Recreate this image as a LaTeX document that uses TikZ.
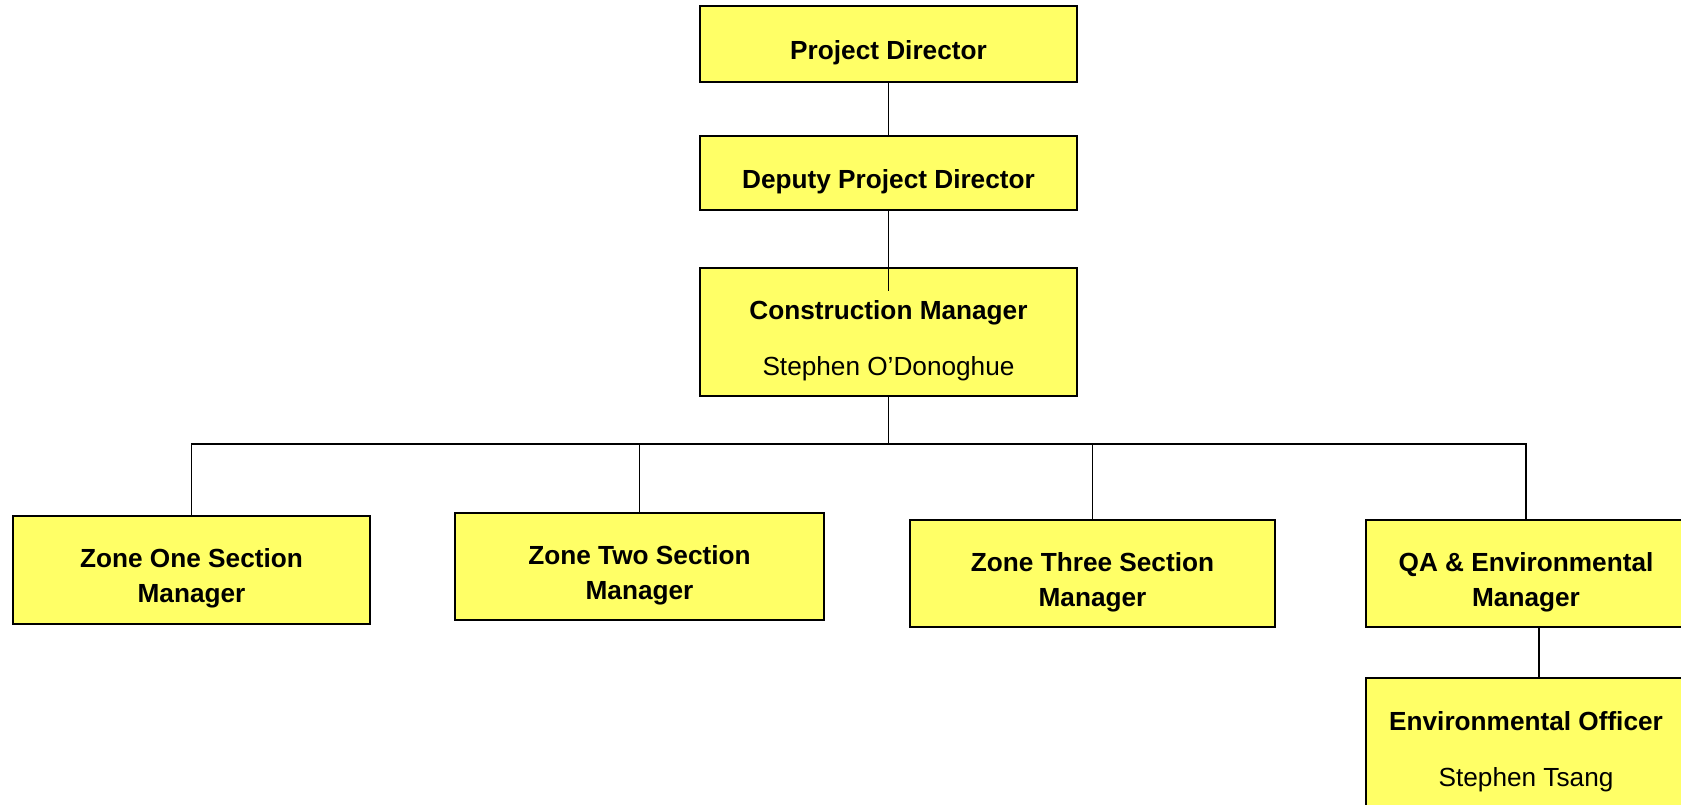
\documentclass[tikz,border=0pt]{standalone}
\usepackage{fontspec}
\setmainfont{Liberation Sans}
\definecolor{postfill}{RGB}{255,255,102}
\def\gap{\\[10.5pt]}
\def\ts{\rule{0pt}{18pt}}

\begin{document}
\begin{tikzpicture}[x=0.5pt,y=-0.5pt,
    post/.style={draw=black,line width=0.8pt,fill=postfill,align=center,
        inner sep=0pt,font=\fontsize{13.1}{17.5}\selectfont},
    link/.style={line width=0.6pt}]
  \useasboundingbox (0,0) rectangle (1681,804);
  % top of the chart
  \node[post,minimum width=188.5pt,minimum height=38pt] (pd)  at (888.5,44)  {\ts\textbf{Project Director}};
  \node[post,minimum width=188.5pt,minimum height=37pt] (dpd) at (888.5,173) {\ts\textbf{Deputy Project Director}};
  \node[post,minimum width=188.5pt,minimum height=64pt] (cm)  at (888.5,332) {\ts\textbf{Construction Manager}\gap Stephen O’Donoghue};
  % section managers
  \node[post,minimum width=178.5pt,minimum height=54pt]   (z1) at (191.5,570)   {\ts\textbf{Zone One Section}\\\textbf{Manager}};
  \node[post,minimum width=184.5pt,minimum height=53.5pt] (z2) at (639.5,566.5) {\ts\textbf{Zone Two Section}\\\textbf{Manager}};
  \node[post,minimum width=182.5pt,minimum height=53.5pt] (z3) at (1092.5,573.5) {\ts\textbf{Zone Three Section}\\\textbf{Manager}};
  \node[post,minimum width=160pt,minimum height=53.5pt]   (qa) at (1526,573.5)  {\ts\textbf{QA \& Environmental}\\\textbf{Manager}};
  \node[post,minimum width=160pt,minimum height=65pt]     (eo) at (1526,743)    {\ts\textbf{Environmental Officer}\gap Stephen Tsang};
  % links
  \coordinate (bus) at (888.5,444);
  \draw[link] (pd) -- (dpd);
  \draw[link] (dpd.south) -- ([yshift=-12pt]cm.north);
  \draw[link] (cm) -- (bus);
  \draw[link] (z1.north) |- (bus);
  \draw[link] (z2.north) |- (bus);
  \draw[link] (z3.north) |- (bus);
  \draw[link] (qa.north) |- (bus);
  \draw[link] ([xshift=6.5pt]qa.south) -- ([xshift=6.5pt]eo.north);
\end{tikzpicture}
\end{document}
